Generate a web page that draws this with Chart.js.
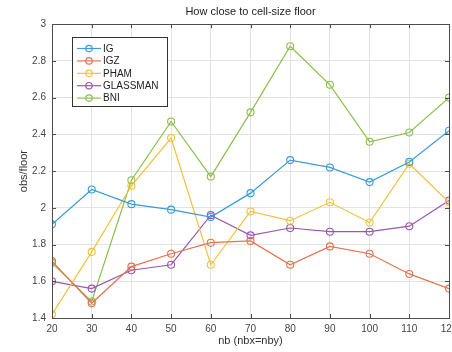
<!DOCTYPE html>
<html>
<head>
<meta charset="utf-8">
<script src="https://cdn.jsdelivr.net/npm/chart.js@4/dist/chart.umd.min.js"></script>
<style>
  html, body { margin: 0; padding: 0; background: #fff; overflow: hidden; }
  #wrap { width: 500px; height: 352px; position: relative; }
</style>
</head>
<body>
<div id="wrap"><canvas id="grafico"></canvas></div>
<script>
// ---- dados ----
const NB       = [20, 30, 40, 50, 60, 70, 80, 90, 100, 110, 120];
const IG       = [1.91, 2.10, 2.02, 1.99, 1.95, 2.08, 2.26, 2.22, 2.14, 2.25, 2.42];
const IGZ      = [1.71, 1.48, 1.68, 1.75, 1.81, 1.82, 1.69, 1.79, 1.75, 1.64, 1.56];
const PHAM     = [1.42, 1.76, 2.12, 2.38, 1.69, 1.98, 1.93, 2.03, 1.92, 2.24, 2.03];
const GLASSMAN = [1.60, 1.56, 1.66, 1.69, 1.96, 1.85, 1.89, 1.87, 1.87, 1.90, 2.04];
const BNI      = [1.70, 1.49, 2.15, 2.47, 2.17, 2.52, 2.88, 2.67, 2.36, 2.41, 2.60];

const SERIES = [
  ['IG', IG, '#3d9bd6'],
  ['IGZ', IGZ, '#e4734f'],
  ['PHAM', PHAM, '#f1c140'],
  ['GLASSMAN', GLASSMAN, '#9b57ae'],
  ['BNI', BNI, '#8cbf4d'],
];

const FONTE = "'Liberation Sans', Arial, sans-serif";
Chart.defaults.font.family = FONTE;
Chart.defaults.color = '#444';

// ---- moldura estilo matlab: caixa + ticks para dentro ----
const caixa = {
  id: 'caixa',
  afterDraw(chart) {
    const { ctx, chartArea: a, scales: { x, y } } = chart;
    ctx.save();
    ctx.strokeStyle = '#4d4d4d';
    ctx.lineWidth = 1;
    ctx.beginPath();
    x.ticks.forEach(t => {
      const px = Math.round(x.getPixelForValue(t.value)) + 0.5;
      ctx.moveTo(px, a.bottom); ctx.lineTo(px, a.bottom - 4);
      ctx.moveTo(px, a.top);    ctx.lineTo(px, a.top + 4);
    });
    y.ticks.forEach(t => {
      const py = Math.round(y.getPixelForValue(t.value)) + 0.5;
      ctx.moveTo(a.left, py);  ctx.lineTo(a.left + 4, py);
      ctx.moveTo(a.right, py); ctx.lineTo(a.right - 4, py);
    });
    ctx.stroke();
    ctx.strokeRect(Math.round(a.left) + 0.5, Math.round(a.top) + 0.5,
                   Math.round(a.right - a.left), Math.round(a.bottom - a.top));
    ctx.restore();
  }
};

// ---- legenda dentro da área do gráfico ----
const legendaBox = {
  id: 'legendaBox',
  afterDraw(chart) {
    const ctx = chart.ctx;
    const x0 = 72.5, y0 = 37.5, w = 95, h = 69;
    ctx.save();
    ctx.fillStyle = '#fff';
    ctx.fillRect(x0, y0, w, h);
    ctx.strokeStyle = '#333';
    ctx.lineWidth = 1;
    ctx.strokeRect(x0, y0, w, h);
    ctx.font = '10px ' + FONTE;
    ctx.textBaseline = 'middle';
    chart.data.datasets.forEach((ds, i) => {
      const yy = 48.5 + i * 12.4;
      ctx.strokeStyle = ds.borderColor;
      ctx.lineWidth = 1.2;
      ctx.beginPath();
      ctx.moveTo(77, yy); ctx.lineTo(101, yy);
      ctx.stroke();
      ctx.beginPath();
      ctx.arc(89, yy, 3.2, 0, Math.PI * 2);
      ctx.stroke();
      ctx.fillStyle = '#222';
      ctx.fillText(ds.label, 103, yy + 0.5);
    });
    ctx.restore();
  }
};

new Chart(document.getElementById('grafico').getContext('2d'), {
  type: 'line',
  data: {
    datasets: SERIES.map(([nome, vals, cor]) => ({
      label: nome,
      data: NB.map((n, i) => ({ x: n, y: vals[i] })),
      borderColor: cor,
      backgroundColor: 'rgba(0,0,0,0)',
      borderWidth: 1.2,
      pointRadius: 3.5,
      pointBorderWidth: 1.1,
      pointBorderColor: cor,
      pointBackgroundColor: 'rgba(0,0,0,0)',
      tension: 0,
      fill: false,
    }))
  },
  options: {
    responsive: true,
    maintainAspectRatio: false,
    animation: false,
    layout: { padding: { left: 0, right: 51, top: 0, bottom: 0 } },
    plugins: {
      legend: { display: false },
      tooltip: { enabled: false },
      title: {
        display: true,
        fullSize: false,
        text: 'How close to cell-size floor',
        color: '#222',
        font: { size: 11, weight: 'normal' },
        padding: { top: 5, bottom: 6 },
      },
    },
    scales: {
      x: {
        type: 'linear',
        min: 20, max: 120,
        border: { display: false },
        grid: { color: '#e3e3e3', drawTicks: false },
        ticks: { stepSize: 10, padding: 5, color: '#444', font: { size: 10 } },
        title: { display: true, text: 'nb (nbx=nby)', color: '#333',
                 font: { size: 11 }, padding: { top: 0, bottom: 4 } },
        afterFit: s => { s.height = 34; },
      },
      y: {
        min: 1.4, max: 3,
        border: { display: false },
        grid: { color: '#e3e3e3', drawTicks: false },
        ticks: { stepSize: 0.2, padding: 6, color: '#444', font: { size: 10 },
                 callback: v => String(+v.toFixed(1)) },
        title: { display: true, text: 'obs/floor', color: '#333',
                 font: { size: 11 }, padding: { top: 17, bottom: 0 } },
        afterFit: s => { s.width = 52; },
      },
    },
  },
  plugins: [caixa, legendaBox],
});
</script>
</body>
</html>
